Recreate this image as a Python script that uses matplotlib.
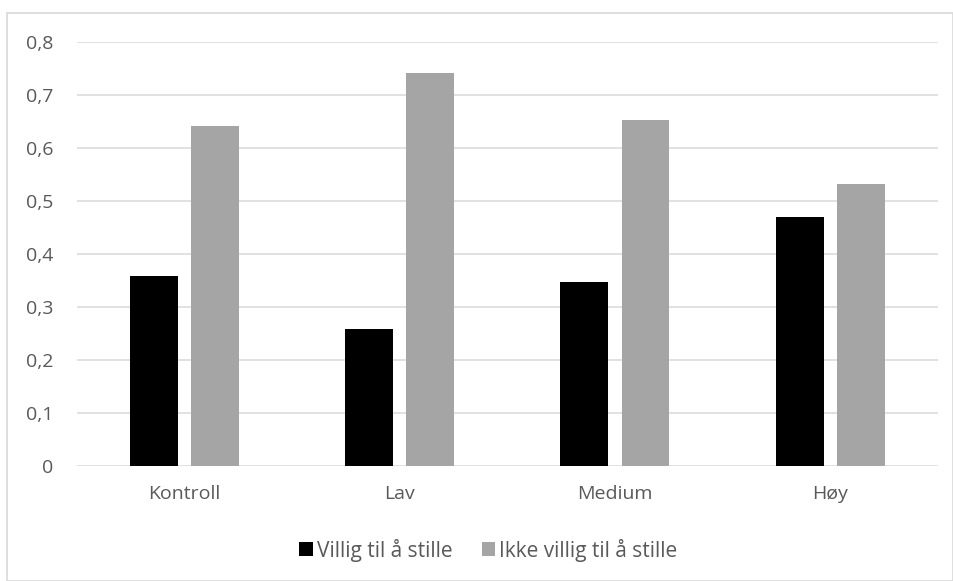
import numpy as np
import matplotlib.pyplot as plt
from matplotlib.patches import Rectangle
from matplotlib.ticker import FuncFormatter

categories = ['Kontroll', 'Lav', 'Medium', 'Høy']
villig = [0.359, 0.259, 0.347, 0.470]
ikke_villig = [0.641, 0.741, 0.653, 0.531]
series_names = ['Villig til å stille', 'Ikke villig til å stille']

plt.rcParams['font.family'] = ['Open Sans', 'DejaVu Sans']

fig = plt.figure(figsize=(9.54, 5.81), dpi=100)
ax = fig.add_axes([77 / 954, 1 - 465.7 / 581, (937.7 - 77) / 954, (465.7 - 42) / 581])

# outer chart border like excel
fig.patches.append(Rectangle((7 / 954, 0.0), 946 / 954, 1 - 13 / 581, transform=fig.transFigure,
                             fill=False, edgecolor='#d9d9d9', linewidth=1.2))

x = np.arange(len(categories))
w = 0.223
ax.bar(x - 0.142, villig, w, color='black', label=series_names[0], zorder=3)
ax.bar(x + 0.142, ikke_villig, w, color='#a5a5a5', label=series_names[1], zorder=3)

ax.set_xlim(-0.5, 3.5)
ax.set_ylim(0, 0.8)
ax.set_yticks(np.arange(0, 0.81, 0.1))
ax.yaxis.set_major_formatter(FuncFormatter(lambda v, p: '0' if abs(v) < 1e-9 else f'{v:.1f}'.replace('.', ',')))
ax.set_xticks(x)
ax.set_xticklabels(categories)

ax.grid(axis='y', color='#d9d9d9', linewidth=1.1, zorder=0)
for s in ax.spines.values():
    s.set_visible(False)
ax.tick_params(axis='both', length=0, colors='#595959', labelsize=14)
ax.tick_params(axis='y', pad=17)
ax.tick_params(axis='x', pad=14)

fig.legend(loc='center', bbox_to_anchor=(488.5 / 954, 1 - 550 / 581), ncol=2, frameon=False,
           fontsize=15, labelcolor='#595959', handlelength=0.65, handleheight=0.65,
           handletextpad=0.2, columnspacing=1.4)

plt.savefig('out.png', dpi=100)
